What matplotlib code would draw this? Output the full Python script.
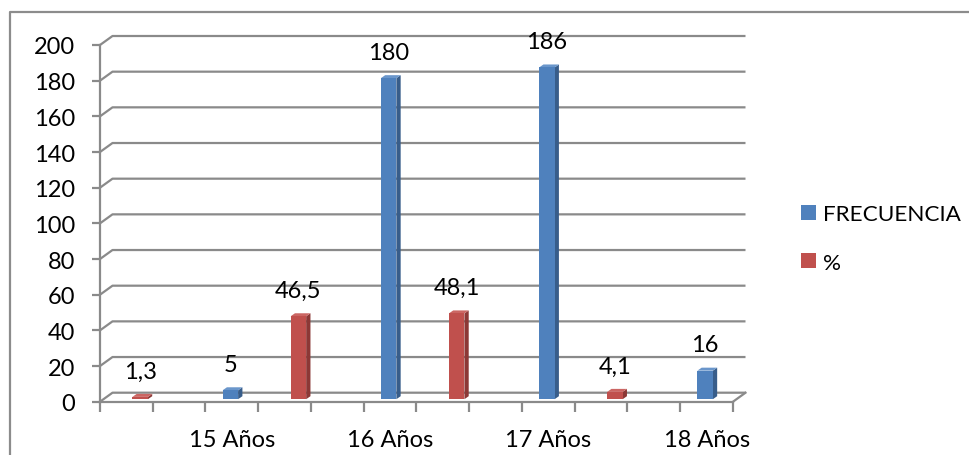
import numpy as np
import matplotlib
matplotlib.use("Agg")
import matplotlib.pyplot as plt
from matplotlib.transforms import ScaledTranslation
from matplotlib.patches import Polygon, Rectangle
from matplotlib.lines import Line2D

# ---- data -------------------------------------------------------------
categories = ["", "", "15 Años", "", "", "16 Años", "", "", "17 Años", "", "", "18 Años"]
frecuencia = [np.nan, np.nan, 5, np.nan, np.nan, 180, np.nan, np.nan, 186, np.nan, np.nan, 16]
porcentaje = [1.3, np.nan, np.nan, 46.5, np.nan, np.nan, 48.1, np.nan, np.nan, 4.1, np.nan, np.nan]
value_labels_frec = ["", "", "5", "", "", "180", "", "", "186", "", "", "16"]
value_labels_pct = ["1,3", "", "", "46,5", "", "", "48,1", "", "", "4,1", "", ""]
y_ticks = list(range(0, 201, 20))
series_names = ["FRECUENCIA", "%"]

# ---- style ------------------------------------------------------------
W, H, DPI = 970, 456, 100
FONT = "Lato"
FS = 17
LEGEND_FS = 16.2
GRID = "#8a8a8a"
BLUE = ("#4F81BD", "#385D8A", "#6A96CB")   # front, side, top
RED = ("#C0504D", "#8C3836", "#CB6663")

plt.rcParams["font.family"] = [FONT, "DejaVu Sans"]

fig = plt.figure(figsize=(W / DPI, H / DPI), dpi=DPI)
fig.patch.set_facecolor("white")

ax_left, ax_right = 100, 733
ax_top, ax_bottom = 46, 402.7
ax = fig.add_axes([ax_left / W, (H - ax_bottom) / H,
                   (ax_right - ax_left) / W, (ax_bottom - ax_top) / H])
n = len(categories)
ax.set_xlim(0, n)
ax.set_ylim(0, 200)
ax.set_facecolor("none")

# pixel -> data conversions
px_x = (ax_right - ax_left) / n
px_y = (ax_bottom - ax_top) / 200.0

def off(dx_px, dy_px):
    return ax.transData + ScaledTranslation(dx_px / DPI, dy_px / DPI, fig.dpi_scale_trans)

# ---- 3D frame: back wall gridlines and floor -------------------------
WALL_DX, WALL_DY = 12.5, 9.0
wdx, wdy = WALL_DX / px_x, WALL_DY / px_y
for v in y_ticks:
    ax.add_line(Line2D([0, wdx, n + wdx], [v, v + wdy, v + wdy], color=GRID,
                       lw=1.6, clip_on=False, zorder=1, solid_capstyle="butt"))
# floor right edge
ax.add_line(Line2D([n, n + wdx], [0, wdy], color=GRID, lw=1.6, clip_on=False, zorder=1))

# ---- axes styling -----------------------------------------------------
for s in ["top", "right"]:
    ax.spines[s].set_visible(False)
for s in ["left", "bottom"]:
    ax.spines[s].set_color(GRID)
    ax.spines[s].set_linewidth(1.6)
    ax.spines[s].set_zorder(2)

ax.set_yticks(y_ticks)
ax.set_yticklabels([str(v) for v in y_ticks])
ax.tick_params(axis="y", length=6, width=1.6, color=GRID, pad=12, labelsize=FS)

ax.set_xticks(np.arange(0, n + 1))
ax.set_xticklabels([])
ax.tick_params(axis="x", which="major", length=7, width=1.6, color=GRID)
ax.set_xticks(np.arange(n) + 0.5, minor=True)
ax.set_xticklabels(categories, minor=True)
ax.tick_params(axis="x", which="minor", length=0, pad=19.5, labelsize=FS)

# ---- 3D columns -------------------------------------------------------
BAR_W = 15.5 / px_x
BAR_DEPTH_DX, BAR_DEPTH_DY = 4.3, 3.0
bdx, bdy = BAR_DEPTH_DX / px_x, BAR_DEPTH_DY / px_y
SHIFT = off(3.5, 2.5)

def column(xc, h, colors, label):
    if np.isnan(h):
        return
    front, side, top = colors
    x0, x1 = xc - BAR_W / 2, xc + BAR_W / 2
    ax.add_patch(Polygon([(x1, 0), (x1 + bdx, bdy), (x1 + bdx, h + bdy), (x1, h)],
                         closed=True, fc=side, ec="none", transform=SHIFT,
                         clip_on=False, zorder=3))
    ax.add_patch(Polygon([(x0, h), (x1, h), (x1 + bdx, h + bdy), (x0 + bdx, h + bdy)],
                         closed=True, fc=top, ec="none", transform=SHIFT,
                         clip_on=False, zorder=3))
    ax.add_patch(Rectangle((x0, 0), BAR_W, h, fc=front, ec="none",
                           transform=SHIFT, clip_on=False, zorder=4))
    ax.annotate(label, xy=(xc, h), xycoords=SHIFT, xytext=(0, 26),
                textcoords="offset pixels", ha="center", va="center",
                fontsize=FS, color="black", annotation_clip=False, zorder=5)

x = np.arange(n)
for i in range(n):
    column(x[i] + 0.5 - 0.095, frecuencia[i], BLUE, value_labels_frec[i])
    column(x[i] + 0.5 + 0.195, porcentaje[i], RED, value_labels_pct[i])

# ---- legend -----------------------------------------------------------
for (name, col), yc in zip(zip(series_names, [BLUE[0], RED[0]]), [213, 261.5]):
    fig.add_artist(Rectangle((801 / W, (H - yc - 7.5) / H), 15 / W, 15 / H,
                             transform=fig.transFigure, fc=col, ec="none"))
    fig.text(823 / W, (H - yc) / H, name, ha="left", va="center_baseline",
             fontsize=LEGEND_FS, color="black")

# ---- chart border -----------------------------------------------------
fig.add_artist(Line2D([10 / W, 10 / W, 1.0], [0.0, (H - 13) / H, (H - 13) / H],
                      transform=fig.transFigure, color="#8c8c8c", lw=1.6))

fig.savefig("out.png", dpi=DPI, facecolor="white")
